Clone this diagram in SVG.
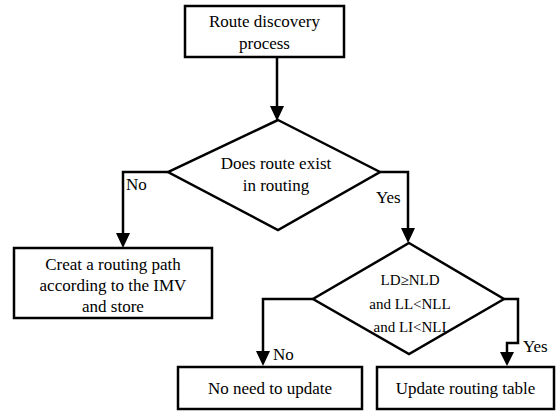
<svg xmlns="http://www.w3.org/2000/svg" width="557" height="412" viewBox="0 0 557 412">
<defs>
<style>
.box{fill:#fff;stroke:#000;stroke-width:2.5}
.c{fill:none;stroke:#000;stroke-width:2.5}
</style>
</defs>
<rect width="557" height="412" fill="#fff"/>
<g id="connectors">
<path class="c" d="M277,57 V108"/>
<path d="M270,106 L284,106 L277,121 Z"/>
<path class="c" d="M168,172 H123 V234"/>
<path d="M116,233 L130,233 L123,248 Z"/>
<path class="c" d="M380,172 H408 V229"/>
<path d="M401,228 L415,228 L408,243 Z"/>
<path class="c" d="M313,299 H263 V352"/>
<path d="M256,351 L270,351 L263,366 Z"/>
<path class="c" d="M504,299 H518 V343 H507 V353"/>
<path d="M500,352 L514,352 L507,366 Z"/>
</g>
<g id="n1"><rect class="box" x="185" y="6" width="159" height="51"/>
<text x="264.5" y="27" font-family="Liberation Serif" font-size="17" text-anchor="middle">Route discovery</text>
<text x="264.5" y="49" font-family="Liberation Serif" font-size="17" text-anchor="middle">process</text></g>
<g id="n2"><polygon class="box" points="278,120 380,172 278,230 168,172"/>
<text x="276" y="169" font-family="Liberation Serif" font-size="17" text-anchor="middle">Does route exist</text>
<text x="276" y="191" font-family="Liberation Serif" font-size="17" text-anchor="middle">in routing</text></g>
<g id="n3"><rect class="box" x="14" y="248" width="198" height="70"/>
<text x="113" y="270" font-family="Liberation Serif" font-size="17" text-anchor="middle">Creat a routing path</text>
<text x="113" y="291" font-family="Liberation Serif" font-size="17" text-anchor="middle">according to the IMV</text>
<text x="113" y="312" font-family="Liberation Serif" font-size="17" text-anchor="middle">and store</text></g>
<g id="n4"><polygon class="box" points="409,243 504,299 409,354 313,299"/>
<text x="410" y="285" font-family="Liberation Serif" font-size="15" text-anchor="middle">LD≥NLD</text>
<text x="410" y="309" font-family="Liberation Serif" font-size="15" text-anchor="middle">and LL&lt;NLL</text>
<text x="410" y="332" font-family="Liberation Serif" font-size="15" text-anchor="middle">and LI&lt;NLI</text></g>
<g id="n5"><rect class="box" x="178" y="367" width="184" height="42"/>
<text x="270" y="394" font-family="Liberation Serif" font-size="17" text-anchor="middle">No need to update</text></g>
<g id="n6"><rect class="box" x="377" y="367" width="177" height="42"/>
<text x="465.5" y="394" font-family="Liberation Serif" font-size="17" text-anchor="middle">Update routing table</text></g>
<g id="labels">
<text x="126" y="190" font-family="Liberation Serif" font-size="17">No</text>
<text x="376" y="203" font-family="Liberation Serif" font-size="17">Yes</text>
<text x="273" y="360" font-family="Liberation Serif" font-size="17">No</text>
<text x="523" y="352" font-family="Liberation Serif" font-size="17">Yes</text>
</g>
</svg>
